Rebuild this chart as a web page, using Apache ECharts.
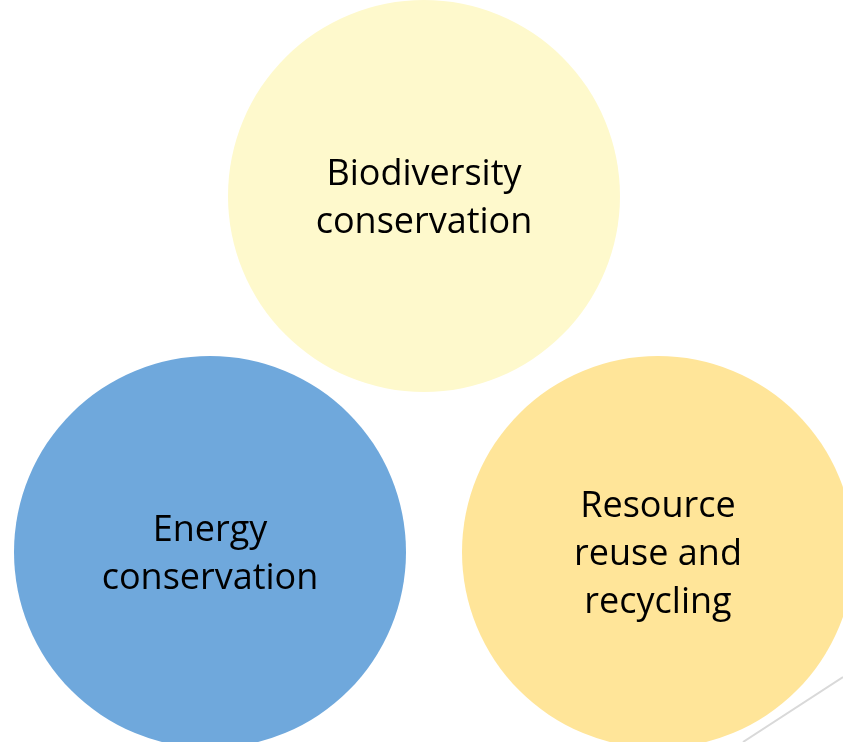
<!DOCTYPE html>
<html>
<head>
<meta charset="utf-8">
<script src="https://cdn.jsdelivr.net/npm/echarts@6/dist/echarts.min.js"></script>
<style>
  html, body { margin: 0; padding: 0; background: #fff; }
  #chart { width: 843px; height: 742px; }
</style>
</head>
<body>
<div id="chart"></div>
<script>
// three topics, laid out on a 843 x 742 canvas-like coordinate space
const topics = ['Biodiversity\nconservation', 'Energy\nconservation', 'Resource\nreuse and\nrecycling'];
const centerX = [424, 210, 658];
const centerY = [196, 552, 552];
const colors = ['#fef9cc', '#6fa8dc', '#ffe599'];
// faint decorative stroke in the lower right corner
const strokeX = [743, 843];
const strokeY = [742, 677];

const chart = echarts.init(document.getElementById('chart'), null, { renderer: 'canvas' });

chart.setOption({
  animation: false,
  grid: { left: 0, right: 0, top: 0, bottom: 0 },
  xAxis: { type: 'value', min: 0, max: 843, show: false },
  yAxis: { type: 'value', min: 0, max: 742, inverse: true, show: false },
  series: [
    {
      type: 'scatter',
      symbol: 'circle',
      symbolSize: 392,
      data: topics.map((t, i) => ({
        name: t,
        value: [centerX[i], centerY[i]],
        itemStyle: { color: colors[i], opacity: 1 }
      })),
      label: {
        show: true,
        position: 'inside',
        offset: [0, 3],
        formatter: p => p.name,
        color: '#000',
        fontFamily: 'Open Sans',
        fontSize: 36,
        lineHeight: 48,
        align: 'center'
      }
    },
    {
      type: 'line',
      showSymbol: false,
      data: strokeX.map((x, i) => [x, strokeY[i]]),
      lineStyle: { color: '#d9d9d9', width: 2 }
    }
  ]
});
</script>
</body>
</html>
